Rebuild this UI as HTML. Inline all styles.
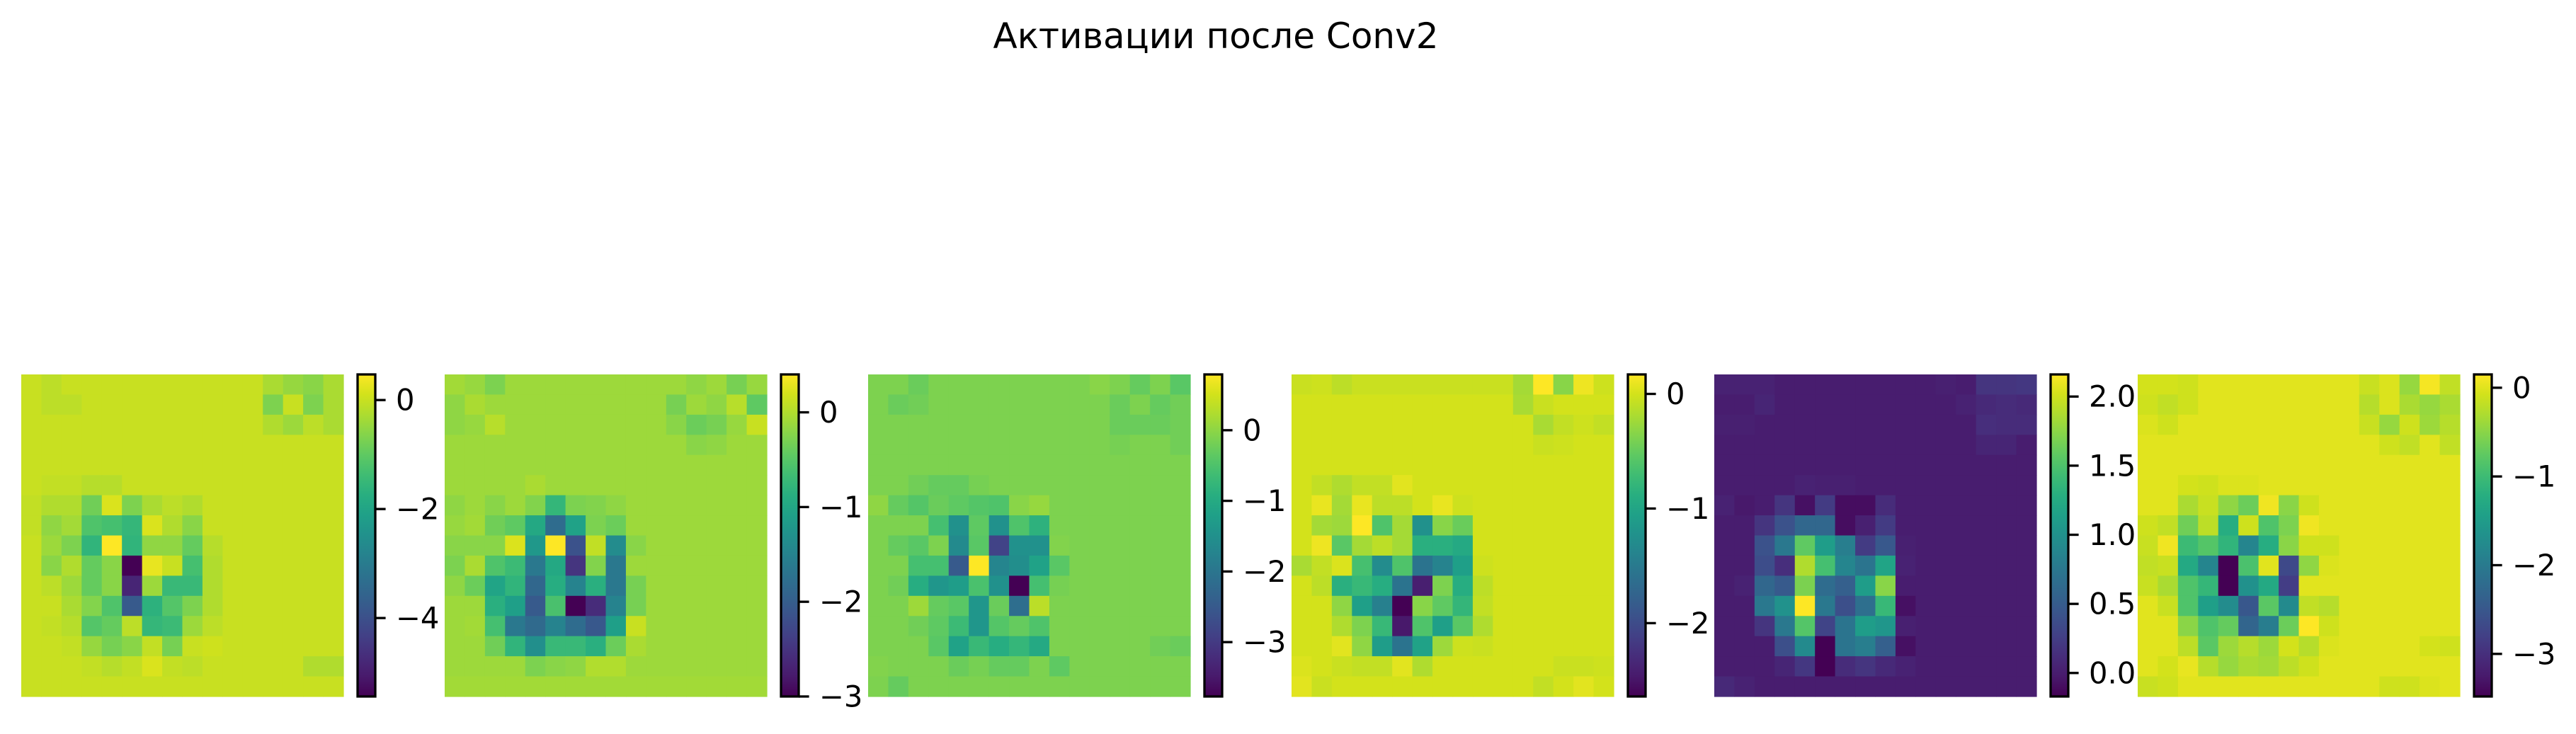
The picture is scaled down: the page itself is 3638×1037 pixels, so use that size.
<!DOCTYPE html>
<html><head><meta charset="utf-8"><style>
html,body{margin:0;padding:0;background:#fff;}
svg{display:block;font-family:"DejaVu Sans","Liberation Sans",sans-serif;}
</style></head><body>
<svg id="fig" width="3638" height="1037" viewBox="0 0 3638 1037" xmlns="http://www.w3.org/2000/svg">
<rect width="3638" height="1037" fill="#fff"/>
<text x="1717" y="68" text-anchor="middle" font-size="50" fill="#000">Активации после Conv2</text>
<defs id="defs"></defs>
</svg>
<script>
// ---- data (16x16 activation maps, data units) ----
const map1 = [
[0,-.12,0,0,0,0,0,0,0,0,0,0,-.3,-.48,-.59,-.3],
[0,-.12,-.12,0,0,0,0,0,0,0,0,0,-.71,0,-.71,-.3],
[0,0,0,0,0,0,0,0,0,0,0,0,-.24,-.42,-.12,-.3],
[0,0,0,0,0,0,0,0,0,0,0,0,0,0,0,0],
[0,0,0,0,0,0,0,0,0,0,0,0,0,0,0,0],
[0,-.06,-.06,-.18,-.18,0,0,0,0,0,0,0,0,0,0,0],
[-.06,-.24,-.24,-.83,.17,-.71,-.3,-.12,-.24,0,0,0,0,0,0,0],
[-.06,-.53,-.36,-1.19,-1.3,-1.54,.17,-.24,-.59,0,0,0,0,0,0,0],
[0,-.42,-.71,-1.6,.47,-1.6,-.53,-.53,-.95,-.18,0,0,0,0,0,0],
[0,-.59,-.24,-.95,-.59,-5.44,.29,0,-1.3,-.24,0,0,0,0,0,0],
[0,-.12,-.42,-.95,-.59,-4.85,-.42,-1.48,-1.48,-.24,0,0,0,0,0,0],
[0,0,-.3,-.65,-1.19,-3.79,-1.66,-1.13,-.71,-.24,0,0,0,0,0,0],
[0,-.06,-.18,-1.13,-.95,-.12,-1.54,-1.42,-.42,-.12,0,0,0,0,0,0],
[0,0,-.06,-.48,-.77,-.59,-.06,-.77,0,.06,0,0,0,0,0,0],
[0,0,0,-.06,-.18,-.06,.17,-.06,-.12,0,0,0,0,0,-.24,-.24],
[0,0,0,0,0,0,0,0,0,0,0,0,0,0,0,0]];
const map2 = [
[-.08,-.14,-.28,-.11,-.11,-.11,-.11,-.11,-.11,-.11,-.11,-.11,-.18,-.11,-.31,-.14],
[-.18,-.04,-.11,-.11,-.11,-.11,-.11,-.11,-.11,-.11,-.11,-.31,-.11,-.18,.03,-.45],
[-.18,-.14,.03,-.11,-.11,-.11,-.11,-.11,-.11,-.11,-.11,-.21,-.38,-.31,-.14,.13],
[-.11,-.11,-.11,-.11,-.11,-.11,-.11,-.11,-.11,-.11,-.11,-.11,-.21,-.18,-.11,-.11],
[-.11,-.11,-.11,-.11,-.11,-.11,-.11,-.11,-.11,-.11,-.11,-.11,-.11,-.11,-.11,-.11],
[-.11,-.11,-.11,-.11,-.04,-.11,-.11,-.11,-.11,-.11,-.11,-.11,-.11,-.11,-.11,-.11],
[-.18,-.11,-.21,-.11,-.25,-.76,-.28,-.25,-.18,-.11,-.11,-.11,-.11,-.11,-.11,-.11],
[-.14,-.08,-.35,-.45,-.96,-1.81,-1.06,-.28,-.38,-.11,-.11,-.11,-.11,-.11,-.11,-.11],
[-.21,-.21,-.21,.23,-1.2,.4,-2.15,.09,-1.37,-.21,-.11,-.11,-.11,-.11,-.11,-.11],
[-.28,-.04,-.55,-.69,-1.64,-.96,-2.49,-.25,-1.64,-.11,-.11,-.11,-.11,-.11,-.11,-.11],
[-.18,-.38,-1.03,-.79,-1.88,-.89,-1.5,-.86,-1.64,-.31,-.11,-.11,-.11,-.11,-.11,-.11],
[-.11,-.11,-.86,-1.1,-2.05,-.59,-3,-2.59,-1.5,-.31,-.11,-.11,-.11,-.11,-.11,-.11],
[-.11,-.08,-.62,-1.64,-1.84,-1.5,-1.81,-2.08,-1.1,.13,-.11,-.11,-.11,-.11,-.11,-.11],
[-.11,-.11,-.35,-.79,-1.33,-.72,-.72,-.86,-.38,-.04,-.11,-.11,-.11,-.11,-.11,-.11],
[-.11,-.11,-.11,-.11,-.28,-.21,-.18,0,0,-.11,-.11,-.11,-.11,-.11,-.11,-.11],
[-.08,-.08,-.08,-.08,-.08,-.08,-.08,-.08,-.08,-.08,-.08,-.08,-.08,-.08,-.08,-.08]];
const map3 = [
[-.12,-.12,-.26,-.12,-.12,-.12,-.12,-.12,-.12,-.12,-.12,-.03,-.12,-.30,-.12,-.40],
[-.12,-.26,-.21,-.12,-.12,-.12,-.12,-.12,-.12,-.12,-.12,-.12,-.26,-.12,-.30,-.21],
[-.12,-.12,-.12,-.12,-.12,-.12,-.12,-.12,-.12,-.12,-.12,-.12,-.26,-.26,-.26,-.21],
[-.12,-.12,-.12,-.12,-.12,-.12,-.12,-.12,-.12,-.12,-.12,-.12,-.17,-.12,-.12,-.21],
[-.12,-.12,-.12,-.12,-.12,-.12,-.12,-.12,-.12,-.12,-.12,-.12,-.12,-.12,-.12,-.12],
[-.12,-.12,-.21,-.30,-.30,-.17,-.12,-.12,-.12,-.12,-.12,-.12,-.12,-.12,-.12,-.12],
[.01,-.30,-.44,-.26,-.35,-.44,-.49,-.03,.06,-.12,-.12,-.12,-.12,-.12,-.12,-.12],
[-.12,-.12,-.12,-.58,-1.49,-.35,-1.49,-.49,-.85,-.12,-.12,-.12,-.12,-.12,-.12,-.12],
[-.12,-.30,-.40,-.12,-1.63,-.40,-2.86,-1.49,-1.49,-.08,-.12,-.12,-.12,-.12,-.12,-.12],
[-.12,-.12,-.58,-.58,-2.49,.79,-1.72,-1.54,-1.17,-.40,-.12,-.12,-.12,-.12,-.12,-.12],
[-.12,-.21,-.94,-1.4,-1.26,-.53,-1.49,-3.77,-.58,-.17,-.12,-.12,-.12,-.12,-.12,-.12],
[-.12,-.12,.11,-.30,-.40,-1.4,-.26,-2.13,.33,-.12,-.12,-.12,-.12,-.12,-.12,-.12],
[-.12,-.12,-.21,-.35,-.67,-1.4,-.44,-.30,-.49,-.12,-.12,-.12,-.12,-.12,-.12,-.12],
[-.12,-.12,-.12,-.40,-1.17,-.71,-.94,-.76,-1.03,-.12,-.12,-.12,-.12,-.12,-.21,-.26],
[-.08,-.12,-.12,-.12,-.26,-.17,-.30,-.30,-.12,-.35,-.12,-.12,-.12,-.12,-.12,-.12],
[-.12,-.30,-.12,-.12,-.12,-.12,-.12,-.12,-.12,-.12,-.12,-.12,-.12,-.12,-.12,-.12]];
const map4 = [
[-.05,-.03,-.11,-.05,-.05,-.05,-.05,-.05,-.05,-.05,-.05,-.22,.17,-.34,.11,-.03],
[0,0,0,0,0,0,0,0,0,0,0,-.2,-.05,0,0,0],
[0,0,0,0,0,0,0,0,0,0,0,0,-.2,-.08,-.03,-.08],
[0,0,0,0,0,0,0,0,0,0,0,0,-.05,-.03,0,0],
[0,0,0,0,0,0,0,0,0,0,0,0,0,0,0,0],
[0,-.08,-.17,-.08,-.08,.06,0,0,0,0,0,0,0,0,0,0],
[0,.09,-.22,.09,-.11,-.11,0,.09,-.03,0,0,0,0,0,0,0],
[0,-.22,-.25,.17,-.62,-.22,-1.24,-.34,-.48,0,0,0,0,0,0,0],
[0,.11,-.56,-.22,-.11,-.22,-.87,-.87,-.95,0,0,0,0,0,0,0],
[-.2,-.08,.03,-.67,-1.29,-.62,-1.57,-1.4,-1.07,-.03,0,0,0,0,0,0],
[0,-.11,-.87,-.76,-.9,-1.57,-2.42,-.39,-.9,-.11,0,0,0,0,0,0],
[0,0,-.31,-1.07,-1.43,-2.64,-.34,-.53,-.79,-.08,0,0,0,0,0,0],
[0,0,-.17,-.39,-.76,-2.47,-.62,-1.07,-.56,-.17,0,0,0,0,0,0],
[0,0,.06,-.31,-1.1,-1.57,-1.04,-.25,-.03,-.05,0,0,0,0,0,0],
[.03,0,-.05,-.08,-.08,.06,-.17,0,0,0,0,0,0,-.05,-.05,-.03],
[.06,-.05,0,0,0,0,0,0,0,0,0,0,-.08,0,.06,0]];
const map5 = [
[.04,.04,.04,0,0,0,0,0,0,0,0,.02,0,.18,.18,.20],
[0,0,.06,0,0,0,0,0,0,0,0,0,.04,.09,.11,.09],
[.02,.02,0,0,0,0,0,0,0,0,0,0,0,.13,.11,.11],
[0,0,0,0,0,0,0,0,0,0,0,0,0,.06,.06,0],
[0,0,0,0,0,0,0,0,0,0,0,0,0,0,0,0],
[0,0,0,0,.04,.02,.02,0,0,0,0,0,0,0,0,0],
[.04,-.03,0,.18,-.08,.23,-.1,-.1,.11,0,0,0,0,0,0,0],
[0,0,.18,.41,.6,.6,-.1,.02,.23,0,0,0,0,0,0,0],
[0,0,.41,.76,1.58,1.11,.81,.23,.46,.02,0,0,0,0,0,0],
[0,0,.37,.13,1.88,1.46,.88,.72,1.18,.04,0,0,0,0,0,0],
[0,.04,.6,.48,1.69,.65,.53,1.11,1.74,0,0,0,0,0,0,0],
[0,0,.76,1.0,2.16,.76,.39,.67,1.39,-.08,0,0,0,0,0,0],
[0,0,.18,.76,1.53,.3,.72,1.11,1.04,.02,0,0,0,0,0,0],
[0,0,0,.39,.93,-.17,.72,.81,.53,-.08,0,0,0,0,0,0],
[0,0,0,.06,.2,-.17,.11,.18,.09,.04,0,0,0,0,0,0],
[.09,.04,0,0,0,0,0,0,0,0,0,0,0,0,0,0]];
const map6 = [
[-.07,-.07,-.10,0,0,0,0,0,0,0,0,-.14,-.03,-.43,.11,-.18],
[-.10,-.18,-.10,0,0,0,0,0,0,0,0,-.25,-.03,-.32,-.43,-.32],
[-.03,-.10,0,0,0,0,0,0,0,0,0,-.14,-.43,-.10,-.40,-.25],
[0,0,0,0,0,0,0,0,0,0,0,0,-.10,-.18,0,-.18],
[0,0,0,0,0,0,0,0,0,0,0,0,0,0,0,0],
[0,0,-.07,-.10,-.03,-.03,0,0,0,0,0,0,0,0,0,0],
[0,0,-.32,-.14,-.47,-.68,.08,-.5,-.10,0,0,0,0,0,0,0],
[-.10,-.18,-.65,-.21,-1.23,-.10,-.87,-.58,.08,0,0,0,0,0,0,0],
[-.14,.08,-1.01,-.83,-1.12,-1.85,-1.23,-.5,-.10,-.10,0,0,0,0,0,0],
[-.18,-.14,-1.3,-1.85,-3.48,-.9,0,-2.68,-.47,-.03,0,0,0,0,0,0],
[-.14,-.32,-.87,-1.08,-3.48,-1.67,-1.3,-2.83,0,0,0,0,0,0,0,0],
[0,-.14,-.87,-1.45,-1.74,-2.5,-.79,-1.77,-.18,-.25,0,0,0,0,0,0],
[0,0,-.5,-.87,-.72,-2.32,-1.96,-.68,.15,-.10,0,0,0,0,0,0],
[0,0,-.21,-.79,-.40,-.25,-.40,-.07,-.25,-.03,0,0,0,0,-.07,-.10],
[0,-.07,.04,-.25,-.43,-.32,-.36,-.21,-.10,0,0,0,0,0,0,0],
[-.14,-.10,0,0,0,0,0,0,0,0,0,0,-.10,-.10,-.03,0]];
const maps = [map1, map2, map3, map4, map5, map6];
const tickSteps = [2, 1, 1, 1, 0.5, 1];
const tickDecimals = [0, 0, 0, 0, 1, 0];

// ---- layout ----
const axLeft = [30, 628, 1226, 1824, 2421, 3019];
const axTop = 529, axSize = 455, cbGap = 20, cbW = 25;

const vStops = [[0,'#440154'],[.0625,'#481a6c'],[.125,'#472d7b'],[.1875,'#424086'],[.25,'#3b528b'],[.3125,'#33638d'],[.375,'#2c728e'],[.4375,'#26828e'],[.5,'#21918c'],[.5625,'#1fa088'],[.625,'#28ae80'],[.6875,'#3fbc73'],[.75,'#5ec962'],[.8125,'#84d44b'],[.875,'#addc30'],[.9375,'#d2e21b'],[1,'#fde725']];
function hex(h){return [parseInt(h.slice(1,3),16),parseInt(h.slice(3,5),16),parseInt(h.slice(5,7),16)];}
function viridis(t){
  t=Math.max(0,Math.min(1,t));
  for(let i=1;i<vStops.length;i++){
    if(t<=vStops[i][0]){
      const a=vStops[i-1],b=vStops[i],f=(t-a[0])/(b[0]-a[0]);
      const ca=hex(a[1]),cb=hex(b[1]);
      return 'rgb('+ca.map((c,k)=>Math.round(c+(cb[k]-c)*f)).join(',')+')';
    }
  }
  return vStops[vStops.length-1][1];
}
const NS='http://www.w3.org/2000/svg';
const svg=document.getElementById('fig');
const defs=document.getElementById('defs');
function mk(tag,attrs,parent){const e=document.createElementNS(NS,tag);for(const k in attrs)e.setAttribute(k,attrs[k]);(parent||svg).appendChild(e);return e;}

const grad=mk('linearGradient',{id:'vir',x1:0,y1:1,x2:0,y2:0},defs);
vStops.forEach(s=>mk('stop',{offset:s[0],'stop-color':s[1]},grad));

maps.forEach((m,p)=>{
  const rows=m.length, cols=m[0].length;
  let vmin=Infinity,vmax=-Infinity;
  m.forEach(r=>r.forEach(v=>{if(v<vmin)vmin=v;if(v>vmax)vmax=v;}));
  const cw=axSize/cols, ch=axSize/rows;
  const xS=c=>axLeft[p]+c*cw, yS=r=>axTop+r*ch;
  const g=mk('g',{});
  
  
  m.forEach((row,r)=>row.forEach((v,c)=>{
    const rect=mk('rect',{x:xS(c),y:yS(r),width:cw+0.6,height:ch+0.6,fill:viridis((v-vmin)/(vmax-vmin))},g);
    
    
  }));
  // colorbar
  const cx=axLeft[p]+axSize+cbGap;
  const cg=mk('g',{});
  
  
  mk('rect',{x:cx,y:axTop,width:cbW,height:axSize,fill:'url(#vir)',stroke:'#000','stroke-width':3.3},cg);
  const yC=v=>axTop+axSize-(v-vmin)/(vmax-vmin)*axSize;
  const st=tickSteps[p];
  for(let t=Math.ceil(vmin/st-1e-9)*st;t<=vmax+1e-9;t+=st){
    const y=yC(t);
    const tl=mk('line',{x1:cx+cbW,x2:cx+cbW+14.6,y1:y,y2:y,stroke:'#000','stroke-width':3.3},cg);
    
    
    let s=Math.abs(t)<1e-9?(0).toFixed(tickDecimals[p]):t.toFixed(tickDecimals[p]);
    s=s.replace('-','\u2212');
    const tx=mk('text',{x:cx+cbW+29,y:y,'font-size':41.7,'dominant-baseline':'central',fill:'#000'},cg);
    tx.textContent=s;
    
    
  }
});
</script>
</body></html>
